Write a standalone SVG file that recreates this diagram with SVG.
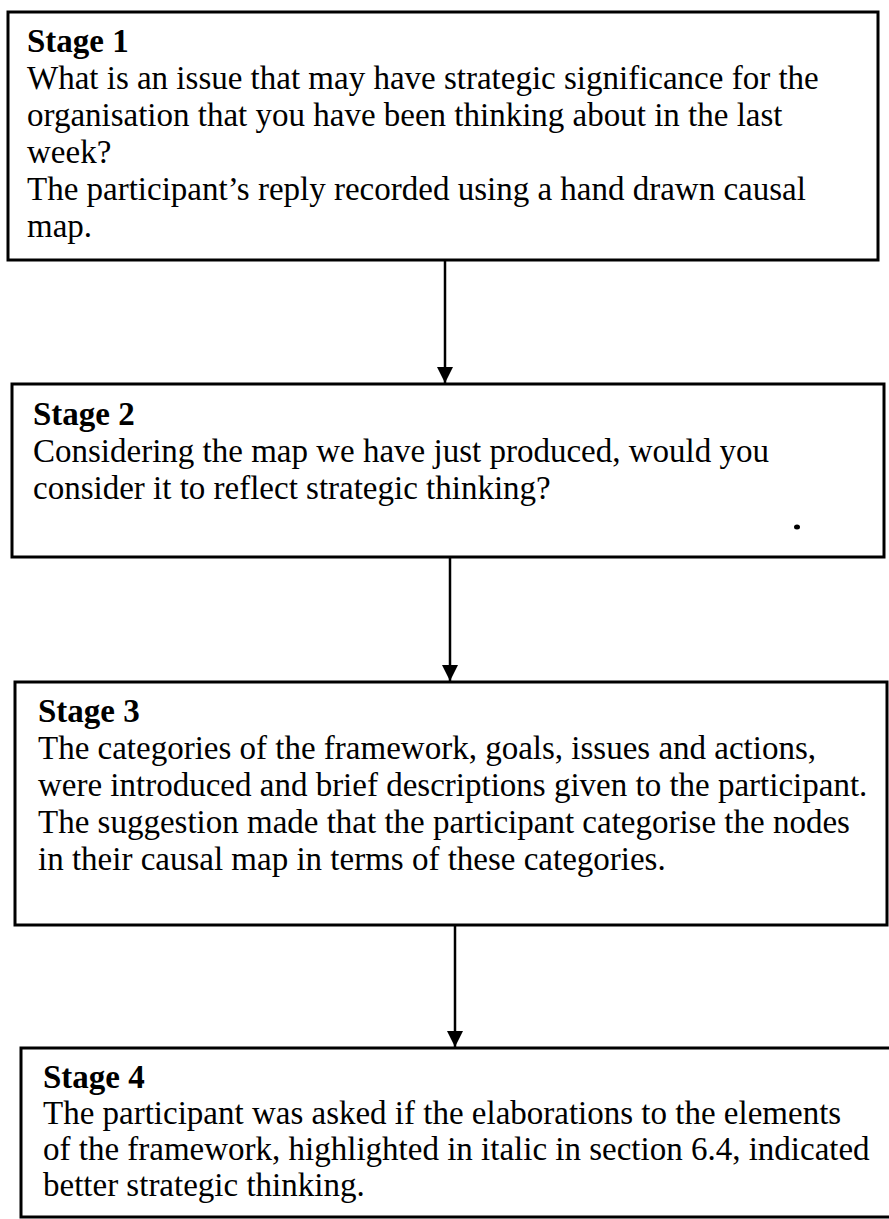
<svg xmlns="http://www.w3.org/2000/svg" width="889" height="1219" viewBox="0 0 889 1219">
<style>
.box{fill:#fff;stroke:#000;stroke-width:3}
.t{font-family:"Liberation Serif","Times New Roman",serif;font-size:33px;fill:#000}
.h{font-weight:bold}
.c{stroke:#000;stroke-width:2.5;fill:none}
</style>
<defs>
<marker id="ah" markerUnits="userSpaceOnUse" markerWidth="18" markerHeight="16" refX="16" refY="8" orient="auto">
<path d="M0,0 L16,8 L0,16 Z" fill="#000"/>
</marker>
</defs>
<rect width="889" height="1219" fill="#fff"/>
<g id="connectors">
<line class="c" x1="445" y1="261" x2="445" y2="383" marker-end="url(#ah)"/>
<line class="c" x1="450" y1="558" x2="450" y2="681" marker-end="url(#ah)"/>
<line class="c" x1="455" y1="926" x2="455" y2="1047" marker-end="url(#ah)"/>
</g>
<g id="stage1">
<rect class="box" x="8" y="12" width="870" height="248"/>
<text class="t" x="27" y="52"><tspan class="h">Stage 1</tspan><tspan x="27" dy="37">What is an issue that may have strategic significance for the</tspan><tspan x="27" dy="37">organisation that you have been thinking about in the last</tspan><tspan x="27" dy="37">week?</tspan><tspan x="27" dy="37">The participant’s reply recorded using a hand drawn causal</tspan><tspan x="27" dy="37">map.</tspan></text>
</g>
<g id="stage2">
<rect class="box" x="12" y="384" width="872" height="173"/>
<text class="t" x="33" y="425"><tspan class="h">Stage 2</tspan><tspan x="33" dy="37">Considering the map we have just produced, would you</tspan><tspan x="33" dy="37">consider it to reflect strategic thinking?</tspan></text>
<ellipse cx="797" cy="527" rx="3" ry="2.5" fill="#000"/>
</g>
<g id="stage3">
<rect class="box" x="15" y="682" width="872" height="243"/>
<text class="t" x="38" y="722"><tspan class="h">Stage 3</tspan><tspan x="38" dy="37">The categories of the framework, goals, issues and actions,</tspan><tspan x="38" dy="37">were introduced and brief descriptions given to the participant.</tspan><tspan x="38" dy="37">The suggestion made that the participant categorise the nodes</tspan><tspan x="38" dy="37">in their causal map in terms of these categories.</tspan></text>
</g>
<g id="stage4">
<rect class="box" x="21" y="1048" width="880" height="169"/>
<text class="t" x="43" y="1088"><tspan class="h">Stage 4</tspan><tspan x="43" dy="36">The participant was asked if the elaborations to the elements</tspan><tspan x="43" dy="36">of the framework, highlighted in italic in section 6.4, indicated</tspan><tspan x="43" dy="36">better strategic thinking.</tspan></text>
</g>
</svg>
